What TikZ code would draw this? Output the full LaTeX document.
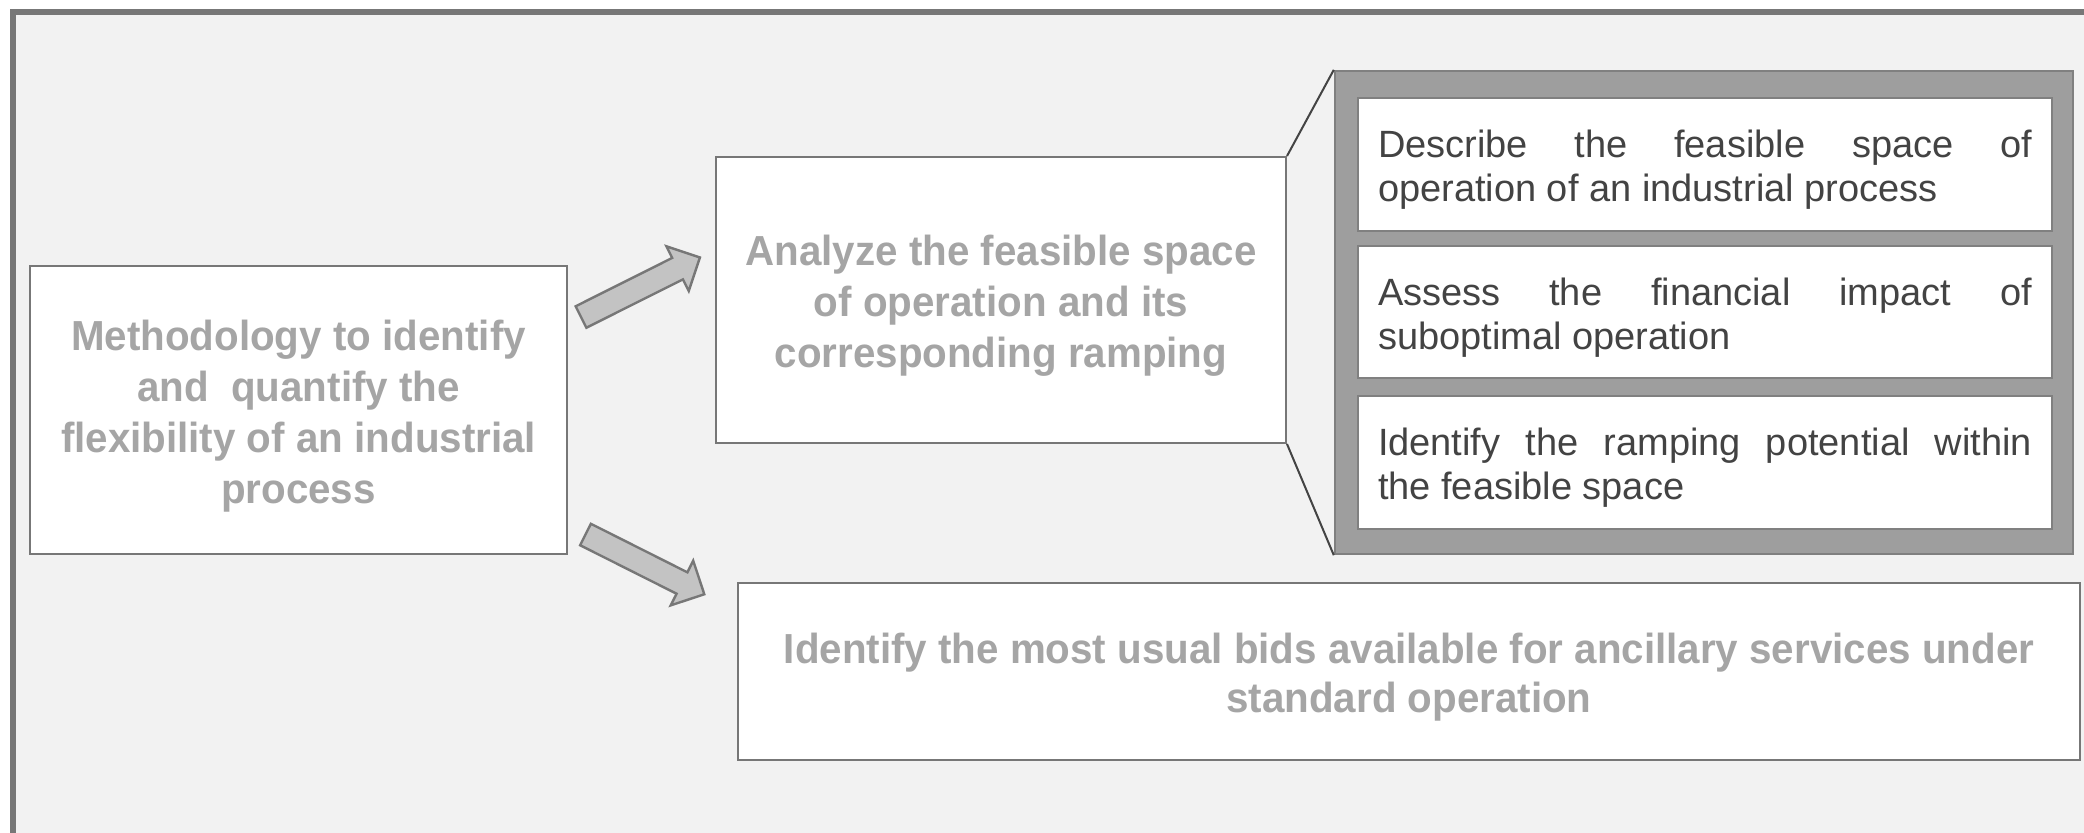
\documentclass[tikz,border=0pt]{standalone}
\usepackage{fontspec}
\setmainfont{Liberation Sans}
\newfontfamily\headfont{Liberation Sans}[FakeStretch=0.96]
\hyphenpenalty=10000
\tolerance=10000
\hbadness=10000
\definecolor{framegray}{HTML}{777777}
\definecolor{pagebg}{HTML}{F2F2F2}
\definecolor{headtext}{HTML}{A5A5A5}
\definecolor{bodytext}{HTML}{434343}
\definecolor{panelfill}{HTML}{9E9E9E}
\definecolor{panelline}{HTML}{808080}
\definecolor{boxline}{HTML}{777777}
\definecolor{arrowfill}{HTML}{C3C3C3}
\definecolor{linkgray}{HTML}{444444}
\tikzset{
  box/.style={draw=boxline, line width=1pt, fill=white, inner sep=0pt,
    execute at begin node={\rule{0pt}{1em}}},
  headbox/.style={box, text=headtext, align=flush center,
    font=\headfont\bfseries\fontsize{21}{25.5}\selectfont},
  stepbox/.style={box, draw=panelline, text=bodytext, align=justify,
    text width=327pt, minimum width=347pt, font=\fontsize{19}{22}\selectfont},
  panel/.style={draw=panelline, line width=1.2pt, fill=panelfill, inner sep=0pt},
  blockarrow/.style={draw=framegray, line width=1.2pt, fill=arrowfill, line join=miter},
  link/.style={draw=linkgray, line width=1pt}
}
\begin{document}
\begin{tikzpicture}[x=0.5pt, y=-0.5pt]
\useasboundingbox (0,0) rectangle (2084,832);
% page frame
\draw[framegray, line width=3pt, fill=pagebg] (13,12) rectangle (2100,850);
% main boxes
\node[headbox, text width=250pt, minimum width=268.5pt, minimum height=144pt] (method) at (298.5,410) {Methodology to identify\\and~ quantify the\\flexibility of an industrial\\process};
\node[headbox, text width=270pt, minimum width=285pt, minimum height=143pt] (analyze) at (1001,300) {Analyze the feasible space\\of operation and its\\corresponding ramping};
\node[headbox, text width=650pt, minimum width=671pt, minimum height=88.5pt, font=\headfont\bfseries\fontsize{21}{24.5}\selectfont] (bids) at (1409,671.5) {Identify the most usual bids available for ancillary services under\\standard operation};
% detail panel
\node[panel, minimum width=369pt, minimum height=241.5pt] (detail) at (1704,312.5) {};
\node[stepbox, minimum height=66.5pt] (desc) at (1705,164.5) {Describe the feasible space of\linebreak operation of an industrial process};
\node[stepbox, minimum height=66pt] (assess) at (1705,312) {Assess the financial impact of\linebreak suboptimal operation};
\node[stepbox, minimum height=66.5pt] (ramp) at (1705,462.5) {Identify the ramping potential within\linebreak the feasible space};
\draw[link] (analyze.north east) -- (detail.north west);
\draw[link] (analyze.south east) -- (detail.south west);
% block arrows
\coordinate (up tail) at (581,317);
\coordinate (down tail) at (585.5,534.5);
\draw[blockarrow, shift={(up tail)}, rotate=26.6] (0,-12) -- (108,-12) -- (108,-25) -- (133,0) -- (108,25) -- (108,12) -- (0,12) -- cycle;
\draw[blockarrow, shift={(down tail)}, rotate=-26.7] (0,-12) -- (108,-12) -- (108,-25) -- (133,0) -- (108,25) -- (108,12) -- (0,12) -- cycle;
\end{tikzpicture}
\end{document}
